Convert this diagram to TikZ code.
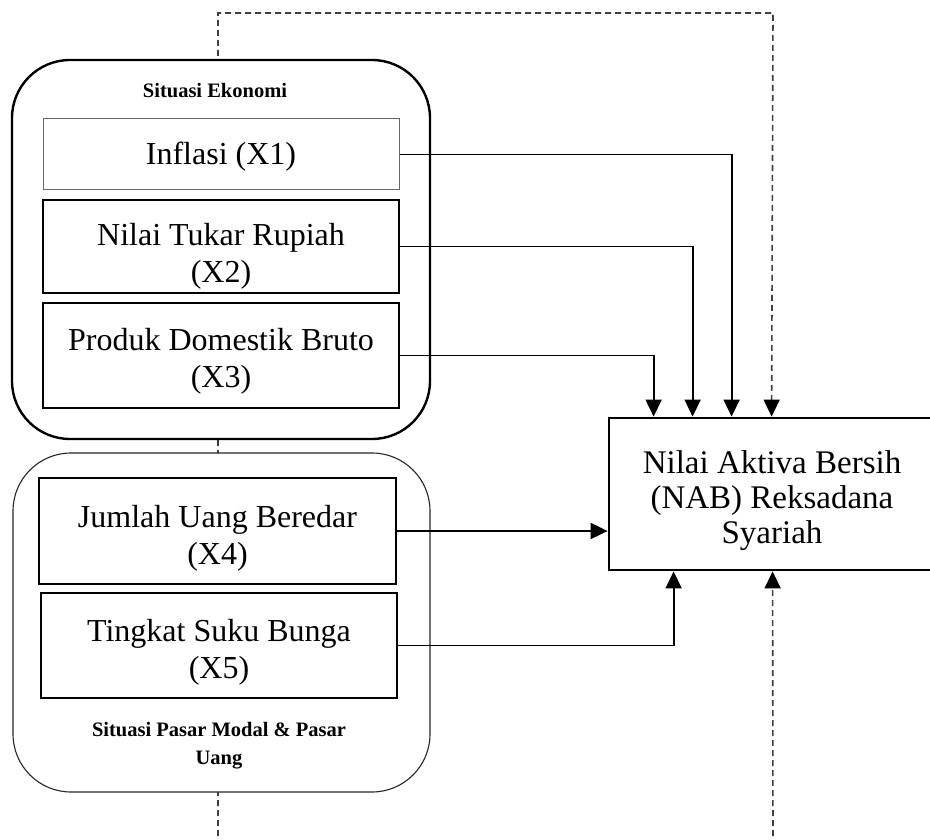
\documentclass[tikz,border=0pt]{standalone}
\usepackage{fontspec}
\setmainfont{Liberation Serif}
\usetikzlibrary{arrows.meta,calc}
\begin{document}
\begin{tikzpicture}[x=1pt,y=-1pt,
 grp/.style={draw, fill=white, rounded corners=58pt, inner sep=0pt},
 varbox/.style={draw, fill=white, line width=2.8pt, inner sep=0pt},
 vartext/.style={align=center, inner sep=0pt, font=\fontsize{32}{37}\selectfont},
 lbl/.style={font=\bfseries\fontsize{20.5}{28}\selectfont, align=center, inner sep=0pt},
 conn/.style={line width=1.9pt, -{Triangle[width=16pt,length=17pt]}},
 dsh/.style={draw=black!75, line width=1.6pt, dash pattern=on 6pt off 4pt, -{Triangle[width=16pt,length=17pt,color=black,fill=black]}}]
\useasboundingbox (0,0) rectangle (930,840);

% target
\node[varbox, minimum width=326pt, minimum height=152pt] (nab) at (772,494) {};
\node[vartext, font=\fontsize{33}{35}\selectfont] (nabt) at (772,501)
  {Nilai Aktiva Bersih\\(NAB) Reksadana\\Syariah};

% arrow entry points on the target
\path (nab.north west) ++(46,0) coordinate (t3) ++(39,0) coordinate (t2) ++(39,0) coordinate (t1) ++(40,0) coordinate (t4);
\path (nab.south west) ++(66,0) coordinate (b5) ++(99,0) coordinate (b6);

% dashed moderating loop
\coordinate (dbl) at (218,846);
\coordinate (dtl) at (218,13);
\coordinate (dtr) at (773,13);
\coordinate (dbr) at (773,846);
\draw[dsh] (dbl) -- (dtl) -- (dtr) -- (t4);
\draw[dsh] (dbr) -- (b6);

% groups
\node[grp, line width=2.4pt, minimum width=418pt, minimum height=379pt] (g1) at (221,249.5) {};
\node[grp, line width=1.1pt, draw=black!85, minimum width=417pt, minimum height=339pt] (g2) at (221.5,622.5) {};
\node[lbl] (g1l) at (215,91) {Situasi Ekonomi};
\node[lbl] (g2l) at (219,746) {Situasi Pasar Modal \& Pasar\\Uang};

% variables
\node[varbox, line width=1pt, draw=black!60, minimum width=356pt, minimum height=71pt] (x1) at (221,154.5) {};
\node[vartext] (x1t) at (221,156.5) {Inflasi (X1)};
\node[varbox, minimum width=356pt, minimum height=93pt] (x2) at (221,246.5) {};
\node[vartext] (x2t) at (221,256) {Nilai Tukar Rupiah\\(X2)};
\node[varbox, minimum width=356pt, minimum height=105pt] (x3) at (221,355.5) {};
\node[vartext] (x3t) at (221,361.5) {Produk Domestik Bruto\\(X3)};
\node[varbox, minimum width=357pt, minimum height=106pt] (x4) at (217.5,531) {};
\node[vartext] (x4t) at (217.5,538.5) {Jumlah Uang Beredar\\(X4)};
\node[varbox, minimum width=356pt, minimum height=105pt] (x5) at (219,645.5) {};
\node[vartext] (x5t) at (219,652) {Tingkat Suku Bunga\\(X5)};

% connectors
\draw[conn] (x1.east) -| (t1);
\draw[conn] (x2.east) -| (t2);
\draw[conn] (x3.east) -| (t3);
\draw[conn] (x4.east) -- (x4.east -| nab.west);
\draw[conn] (x5.east) -| (b5);
\end{tikzpicture}
\end{document}
